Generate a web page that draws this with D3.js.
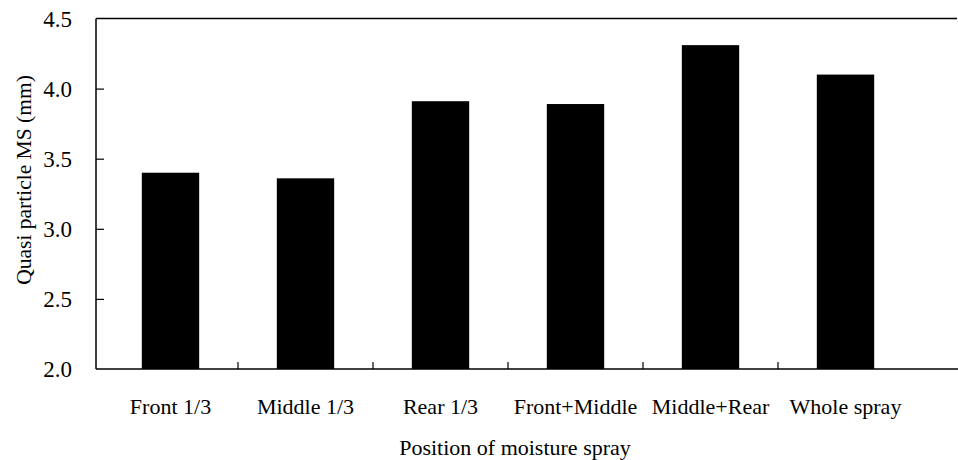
<!DOCTYPE html>
<html>
<head>
<meta charset="utf-8">
<script src="https://cdn.jsdelivr.net/npm/d3@7"></script>
<style>
  html, body { margin: 0; padding: 0; background: #fff; }
  svg { display: block; }
  text { font-family: "Liberation Serif", "Times New Roman", serif; fill: #000; }
</style>
</head>
<body>
<svg id="chart" width="958" height="460"></svg>
<script>
const categories = ["Front 1/3", "Middle 1/3", "Rear 1/3", "Front+Middle", "Middle+Rear", "Whole spray"];
const values = [3.40, 3.36, 3.91, 3.89, 4.31, 4.10];
const yTicks = [2.0, 2.5, 3.0, 3.5, 4.0, 4.5];
const xTitle = "Position of moisture spray";
const yTitle = "Quasi particle MS (mm)";

const svg = d3.select("#chart");
const plotLeft = 96, plotRight = 958, plotTop = 18.5, plotBottom = 369;

const x = d3.scaleBand()
  .domain(categories)
  .range([103, 913])
  .paddingInner(0.575)
  .paddingOuter(0.2875);

const y = d3.scaleLinear().domain([2.0, 4.5]).range([plotBottom, plotTop]);

// bars
svg.append("g").selectAll("rect")
  .data(categories)
  .join("rect")
  .attr("x", d => x(d))
  .attr("width", x.bandwidth())
  .attr("y", (d, i) => y(values[i]))
  .attr("height", (d, i) => plotBottom - y(values[i]))
  .attr("fill", "#000");

// top frame line
svg.append("line")
  .attr("x1", plotLeft).attr("x2", plotRight - 1)
  .attr("y1", plotTop).attr("y2", plotTop)
  .attr("stroke", "#000").attr("stroke-width", 1.5);

// y axis
const yAxis = d3.axisLeft(y).tickValues(yTicks).tickFormat(d3.format(".1f")).tickSize(-8).tickPadding(24);
const gy = svg.append("g").attr("transform", `translate(${plotLeft},0)`).call(yAxis);
gy.select(".domain").attr("stroke", "#000").attr("stroke-width", 1.5).attr("d", `M0,${plotTop}V${plotBottom}`);
gy.selectAll(".tick line").attr("stroke", "#000").attr("stroke-width", 1.2);
gy.selectAll(".tick text").attr("font-size", 23).attr("dy", "0.34em");
gy.selectAll(".tick").filter(d => d === 2.0 || d === 4.5).select("line").remove();

// x axis line
svg.append("line")
  .attr("x1", plotLeft).attr("x2", plotRight)
  .attr("y1", plotBottom).attr("y2", plotBottom)
  .attr("stroke", "#000").attr("stroke-width", 1.5);

// x tick marks at category boundaries
const boundaries = d3.range(1, categories.length).map(i => x.range()[0] + i * x.step());
svg.append("g").selectAll("line")
  .data(boundaries)
  .join("line")
  .attr("x1", d => d).attr("x2", d => d)
  .attr("y1", plotBottom).attr("y2", plotBottom - 7)
  .attr("stroke", "#000").attr("stroke-width", 1.2);

// x category labels
svg.append("g").selectAll("text")
  .data(categories)
  .join("text")
  .attr("x", d => x(d) + x.bandwidth() / 2)
  .attr("y", 414)
  .attr("text-anchor", "middle")
  .attr("font-size", 22)
  .text(d => d);

// x title
svg.append("text")
  .attr("x", 515)
  .attr("y", 455)
  .attr("text-anchor", "middle")
  .attr("font-size", 22)
  .text(xTitle);

// y title
svg.append("text")
  .attr("transform", "translate(31,180) rotate(-90)")
  .attr("text-anchor", "middle")
  .attr("font-size", 21.5)
  .text(yTitle);
</script>
</body>
</html>
